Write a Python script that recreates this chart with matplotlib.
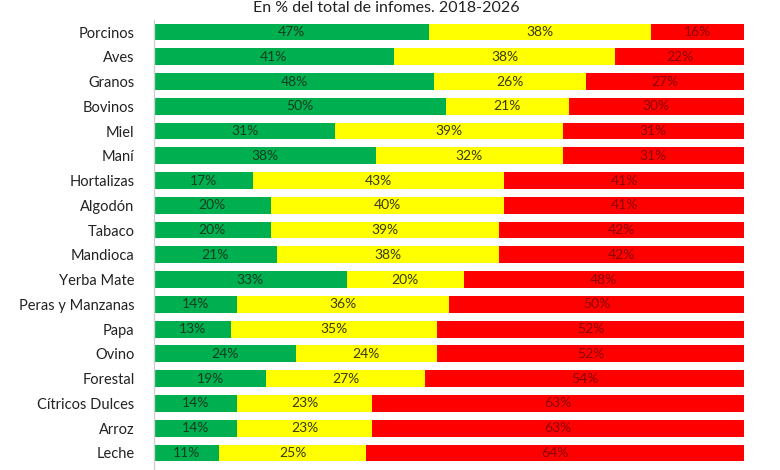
import matplotlib
matplotlib.use("Agg")
import matplotlib.pyplot as plt
import numpy as np

categories = ["Porcinos", "Aves", "Granos", "Bovinos", "Miel", "Maní", "Hortalizas",
              "Algodón", "Tabaco", "Mandioca", "Yerba Mate", "Peras y Manzanas",
              "Papa", "Ovino", "Forestal", "Cítricos Dulces", "Arroz", "Leche"]
verde = [47, 41, 48, 50, 31, 38, 17, 20, 20, 21, 33, 14, 13, 24, 19, 14, 14, 11]
amarillo = [38, 38, 26, 21, 39, 32, 43, 40, 39, 38, 20, 36, 35, 24, 27, 23, 23, 25]
rojo = [16, 22, 27, 30, 31, 31, 41, 41, 42, 42, 48, 50, 52, 52, 54, 63, 63, 64]
title = "En % del total de infomes. 2018-2026"

plt.rcParams['font.family'] = ['Lato', 'DejaVu Sans']

W, H = 780, 470
fig = plt.figure(figsize=(W/100, H/100), dpi=100)
ax_top_px = 19.6
ax = fig.add_axes([154/W, 0, 590/W, 1 - ax_top_px/H])

v = np.array(verde, float); a = np.array(amarillo, float); r = np.array(rojo, float)
tot = v + a + r
vf, af, rf = v/tot, a/tot, r/tot
y = np.arange(len(categories))
h = 0.68
series = [(vf, verde, "#00B050", "#123d1f", np.zeros_like(vf)),
          (af, amarillo, "#FFFF00", "#3a3a10", vf),
          (rf, rojo, "#FF0000", "#8a0000", vf + af)]
for frac, vals, col, tcol, left in series:
    ax.barh(y, frac, left=left, height=h, color=col, edgecolor='none')
    for yi, f, l, val in zip(y, frac, left, vals):
        ax.text(l + f/2, yi, f"{val}%", ha='center', va='center', fontsize=10, color=tcol)

ax.set_xlim(0, 1)
ax.set_ylim((470 - 32)/24.76, -(32 - ax_top_px)/24.76)
ax.set_yticks(y)
ax.set_yticklabels(categories, fontsize=10.5, color="#222222")
ax.tick_params(axis='y', length=0, pad=14)
ax.set_xticks([])
for s in ['top', 'right', 'bottom']:
    ax.spines[s].set_visible(False)
ax.spines['left'].set_color("#d0d0d0")
ax.spines['left'].set_linewidth(1)

fig.text(386/W, 1 - 1/H, title, ha='center', va='top', fontsize=11.5, color="#222222")

fig.savefig("out.png", dpi=100)
